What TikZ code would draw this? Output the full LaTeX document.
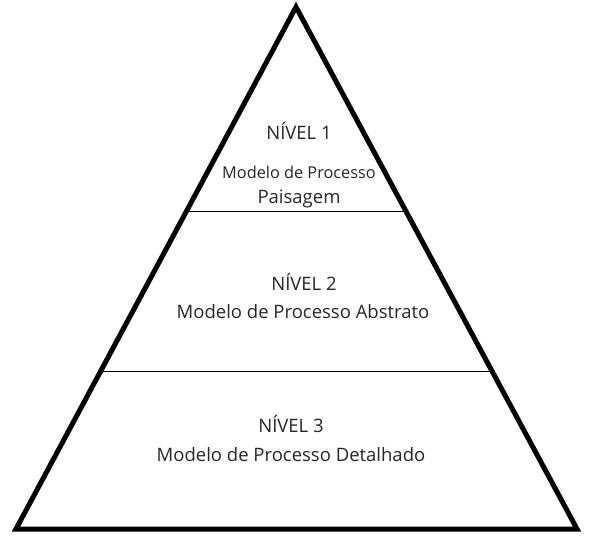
\documentclass[tikz,border=0pt]{standalone}
\usepackage{fontspec}
\setmainfont{Open Sans}
\usetikzlibrary{calc}
\tikzset{nivel/.style={text=black!85, font=\fontsize{18.5}{20}\selectfont, inner sep=0pt}}
\begin{document}
\begin{tikzpicture}[x=1pt, y=-1pt]
\useasboundingbox (0,0) rectangle (595,556);
\coordinate (topo) at (296,7);
\coordinate (esq) at (16,529);
\coordinate (dir) at (577,529);
\draw[line width=5pt, line join=miter] (topo) -- (esq) -- (dir) -- cycle;
% divisoes
\foreach \t/\n in {0.392/a, 0.698/b}{
\coordinate (e\n) at ($(topo)!\t!(esq)$);
\coordinate (d\n) at ($(topo)!\t!(dir)$);
\draw[line width=1.3pt] (e\n) -- (d\n);
}
\node[nivel] (n1) at (299,131) {NÍVEL 1};
\node[nivel, font=\fontsize{16.3}{18}\selectfont] (m1) at (299,172) {Modelo de Processo};
\node[nivel] (p1) at (299,199) {Paisagem};
\node[nivel] (n2) at (304,282) {NÍVEL 2};
\node[nivel] (m2) at (303,312) {Modelo de Processo Abstrato};
\node[nivel] (n3) at (291,424) {NÍVEL 3};
\node[nivel] (m3) at (291,455) {Modelo de Processo Detalhado};
\end{tikzpicture}
\end{document}
